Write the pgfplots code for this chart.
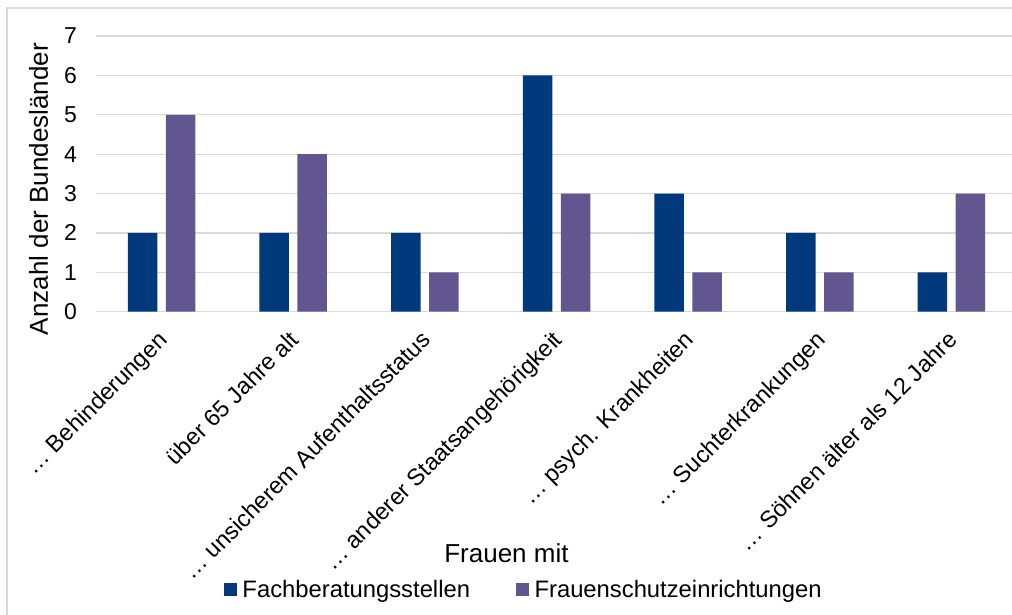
\documentclass[border=0pt]{standalone}
\usepackage{pgfplots}
\pgfplotsset{compat=1.18}
\usepackage{fontspec}
\setmainfont{Liberation Sans}
\definecolor{cblue}{HTML}{003A7D}
\definecolor{cpurp}{HTML}{625690}
\definecolor{cgrid}{HTML}{D9D9D9}
\pgfplotsset{sqlegend/.style={legend image code/.code={\fill[##1] (0pt,-6.5pt) rectangle (13pt,6.5pt);}}}
\begin{document}
\begin{tikzpicture}
\useasboundingbox (0pt,0pt) rectangle (1012pt,-615pt);
\draw[cgrid, line width=1.3pt] (7pt,-8pt) rectangle (1030pt,-630pt);
\begin{axis}[
  at={(95.7pt,-311.7pt)}, anchor=south west,
  scale only axis, width=921.6pt, height=275.7pt,
  ybar=8.5pt, bar width=29.5pt,
  xmin=-0.5, xmax=6.5, ymin=0, ymax=7,
  xtick={0,1,2,3,4,5,6},
  xticklabels={… Behinderungen, über 65 Jahre alt, … unsicherem Aufenthaltsstatus, … anderer Staatsangehörigkeit, … psych. Krankheiten, … Suchterkrankungen, … Söhnen älter als 12 Jahre},
  ytick={0,1,2,3,4,5,6,7},
  major tick length=0pt,
  axis line style={draw=none},
  ymajorgrids, grid style={cgrid, line width=1.3pt},
  /pgf/number format/assume math mode=true,
  yticklabel style={anchor=east, inner sep=0pt, xshift=-18.7pt, font=\fontsize{23}{27}\selectfont},
  xticklabel style={inner sep=0pt, xshift=-5pt, yshift=-17.5pt, rotate=45, anchor=north east, font=\fontsize{23.5}{28}\selectfont},
  xlabel={Frauen mit},
  xlabel style={at={(axis description cs:0.4457,-0.875)}, anchor=center, inner sep=0pt, font=\fontsize{26}{30}\selectfont},
  ylabel={Anzahl der Bundesländer},
  ylabel style={at={(axis description cs:-0.062,0.445)}, anchor=center, inner sep=0pt, font=\fontsize{26}{30}\selectfont},
  legend columns=2,
  legend style={at={(axis description cs:0.1392,-1.0076)}, anchor=west, draw=none, fill=none, inner sep=0pt, outer sep=0pt,
    font=\fontsize{23.8}{28}\selectfont,
    nodes={inner sep=0pt},
    cells={anchor=west},
    /tikz/every odd column/.append style={column sep=5.5pt},
    /tikz/every even column/.append style={column sep=46pt}},
]
\addplot[fill=cblue, draw=none, sqlegend] coordinates {(0,2) (1,2) (2,2) (3,6) (4,3) (5,2) (6,1)};
\addplot[fill=cpurp, draw=none, sqlegend] coordinates {(0,5) (1,4) (2,1) (3,3) (4,1) (5,1) (6,3)};
\legend{Fachberatungsstellen, Frauenschutzeinrichtungen}
\end{axis}
\end{tikzpicture}
\end{document}
